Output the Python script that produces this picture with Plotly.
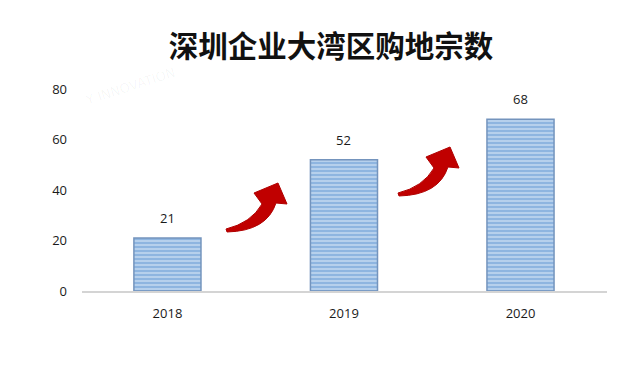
import plotly.graph_objects as go

# Data
years = ["2018", "2019", "2020"]
counts = [21, 52, 68]
y_ticks = [0, 20, 40, 60, 80]
title_text = "深圳企业大湾区购地宗数"

W, H = 637, 369
L, R, T, B = 82, 30, 89, 78
plot_w = W - L - R
plot_h = H - T - B

x_pos = list(range(len(years)))

fig = go.Figure()
fig.add_trace(go.Bar(
    x=x_pos,
    y=counts,
    width=0.38,
    marker=dict(
        color="#cfe1f4",
        line=dict(color="#7494bd", width=1.5),
        pattern=dict(shape="-", fgcolor="#4e8acb", bgcolor="#cfe1f4",
                     size=4, solidity=0.7),
    ),
    hoverinfo="skip",
))

# Value labels above the bars
for xi, v in zip(x_pos, counts):
    fig.add_annotation(x=xi, y=v, text=str(v), showarrow=False,
                       yanchor="bottom", yshift=9,
                       font=dict(size=13, color="#1a1a1a", family="Open Sans"))


def to_paper(px, py):
    return (px - L) / plot_w, (H - B - py) / plot_h


# Curved "growth" arrow outline, in pixel offsets
arrow_outline = [
    ("M", [(226, 229)]),
    ("Q", [(251, 223), (262, 204)]),
    ("L", [(254, 193)]),
    ("L", [(278, 183)]),
    ("L", [(287, 204)]),
    ("L", [(276, 203)]),
    ("Q", [(267, 231), (227, 232)]),
]


def arrow_path(dx, dy):
    parts = []
    for cmd, pts in arrow_outline:
        coords = []
        for (px, py) in pts:
            xp, yp = to_paper(px + dx, py + dy)
            coords.append(f"{xp:.4f},{yp:.4f}")
        parts.append(cmd + " " + " ".join(coords))
    return " ".join(parts) + " Z"


for dx, dy in [(0, 0), (172, -36)]:
    fig.add_shape(type="path", xref="paper", yref="paper",
                  path=arrow_path(dx, dy),
                  fillcolor="#c00000", line=dict(color="#b00000", width=1))

# Faint background watermark
fig.add_annotation(xref="paper", yref="paper", x=(80 - L) / plot_w,
                   y=(H - B - 62) / plot_h, text="Y INNOVATION",
                   showarrow=False, textangle=-18,
                   font=dict(size=13, color="rgba(0,0,0,0.04)",
                             family="DejaVu Sans"))

fig.update_layout(
    width=W, height=H,
    margin=dict(l=L, r=R, t=T, b=B),
    paper_bgcolor="white",
    plot_bgcolor="white",
    showlegend=False,
    title=dict(text=f"<b>{title_text}</b>", x=331 / W, xanchor="center",
               y=1 - 47 / H, yanchor="middle",
               font=dict(size=29.5, color="#111111", family="Noto Sans CJK SC")),
    xaxis=dict(
        range=[-0.484, 2.49],
        tickmode="array", tickvals=x_pos, ticktext=years,
        showgrid=False, zeroline=False,
        showline=True, linecolor="#d4d4d4", linewidth=1.5,
        ticks="", ticklabelstandoff=10,
        tickfont=dict(size=13, color="#1a1a1a", family="Open Sans"),
        fixedrange=True,
    ),
    yaxis=dict(
        range=[0, 80],
        tickmode="array", tickvals=y_ticks,
        showgrid=False, zeroline=False, showline=False,
        ticks="", ticklabelstandoff=14,
        tickfont=dict(size=13, color="#1a1a1a", family="Open Sans"),
        fixedrange=True,
    ),
)

fig.write_html("out.html")
